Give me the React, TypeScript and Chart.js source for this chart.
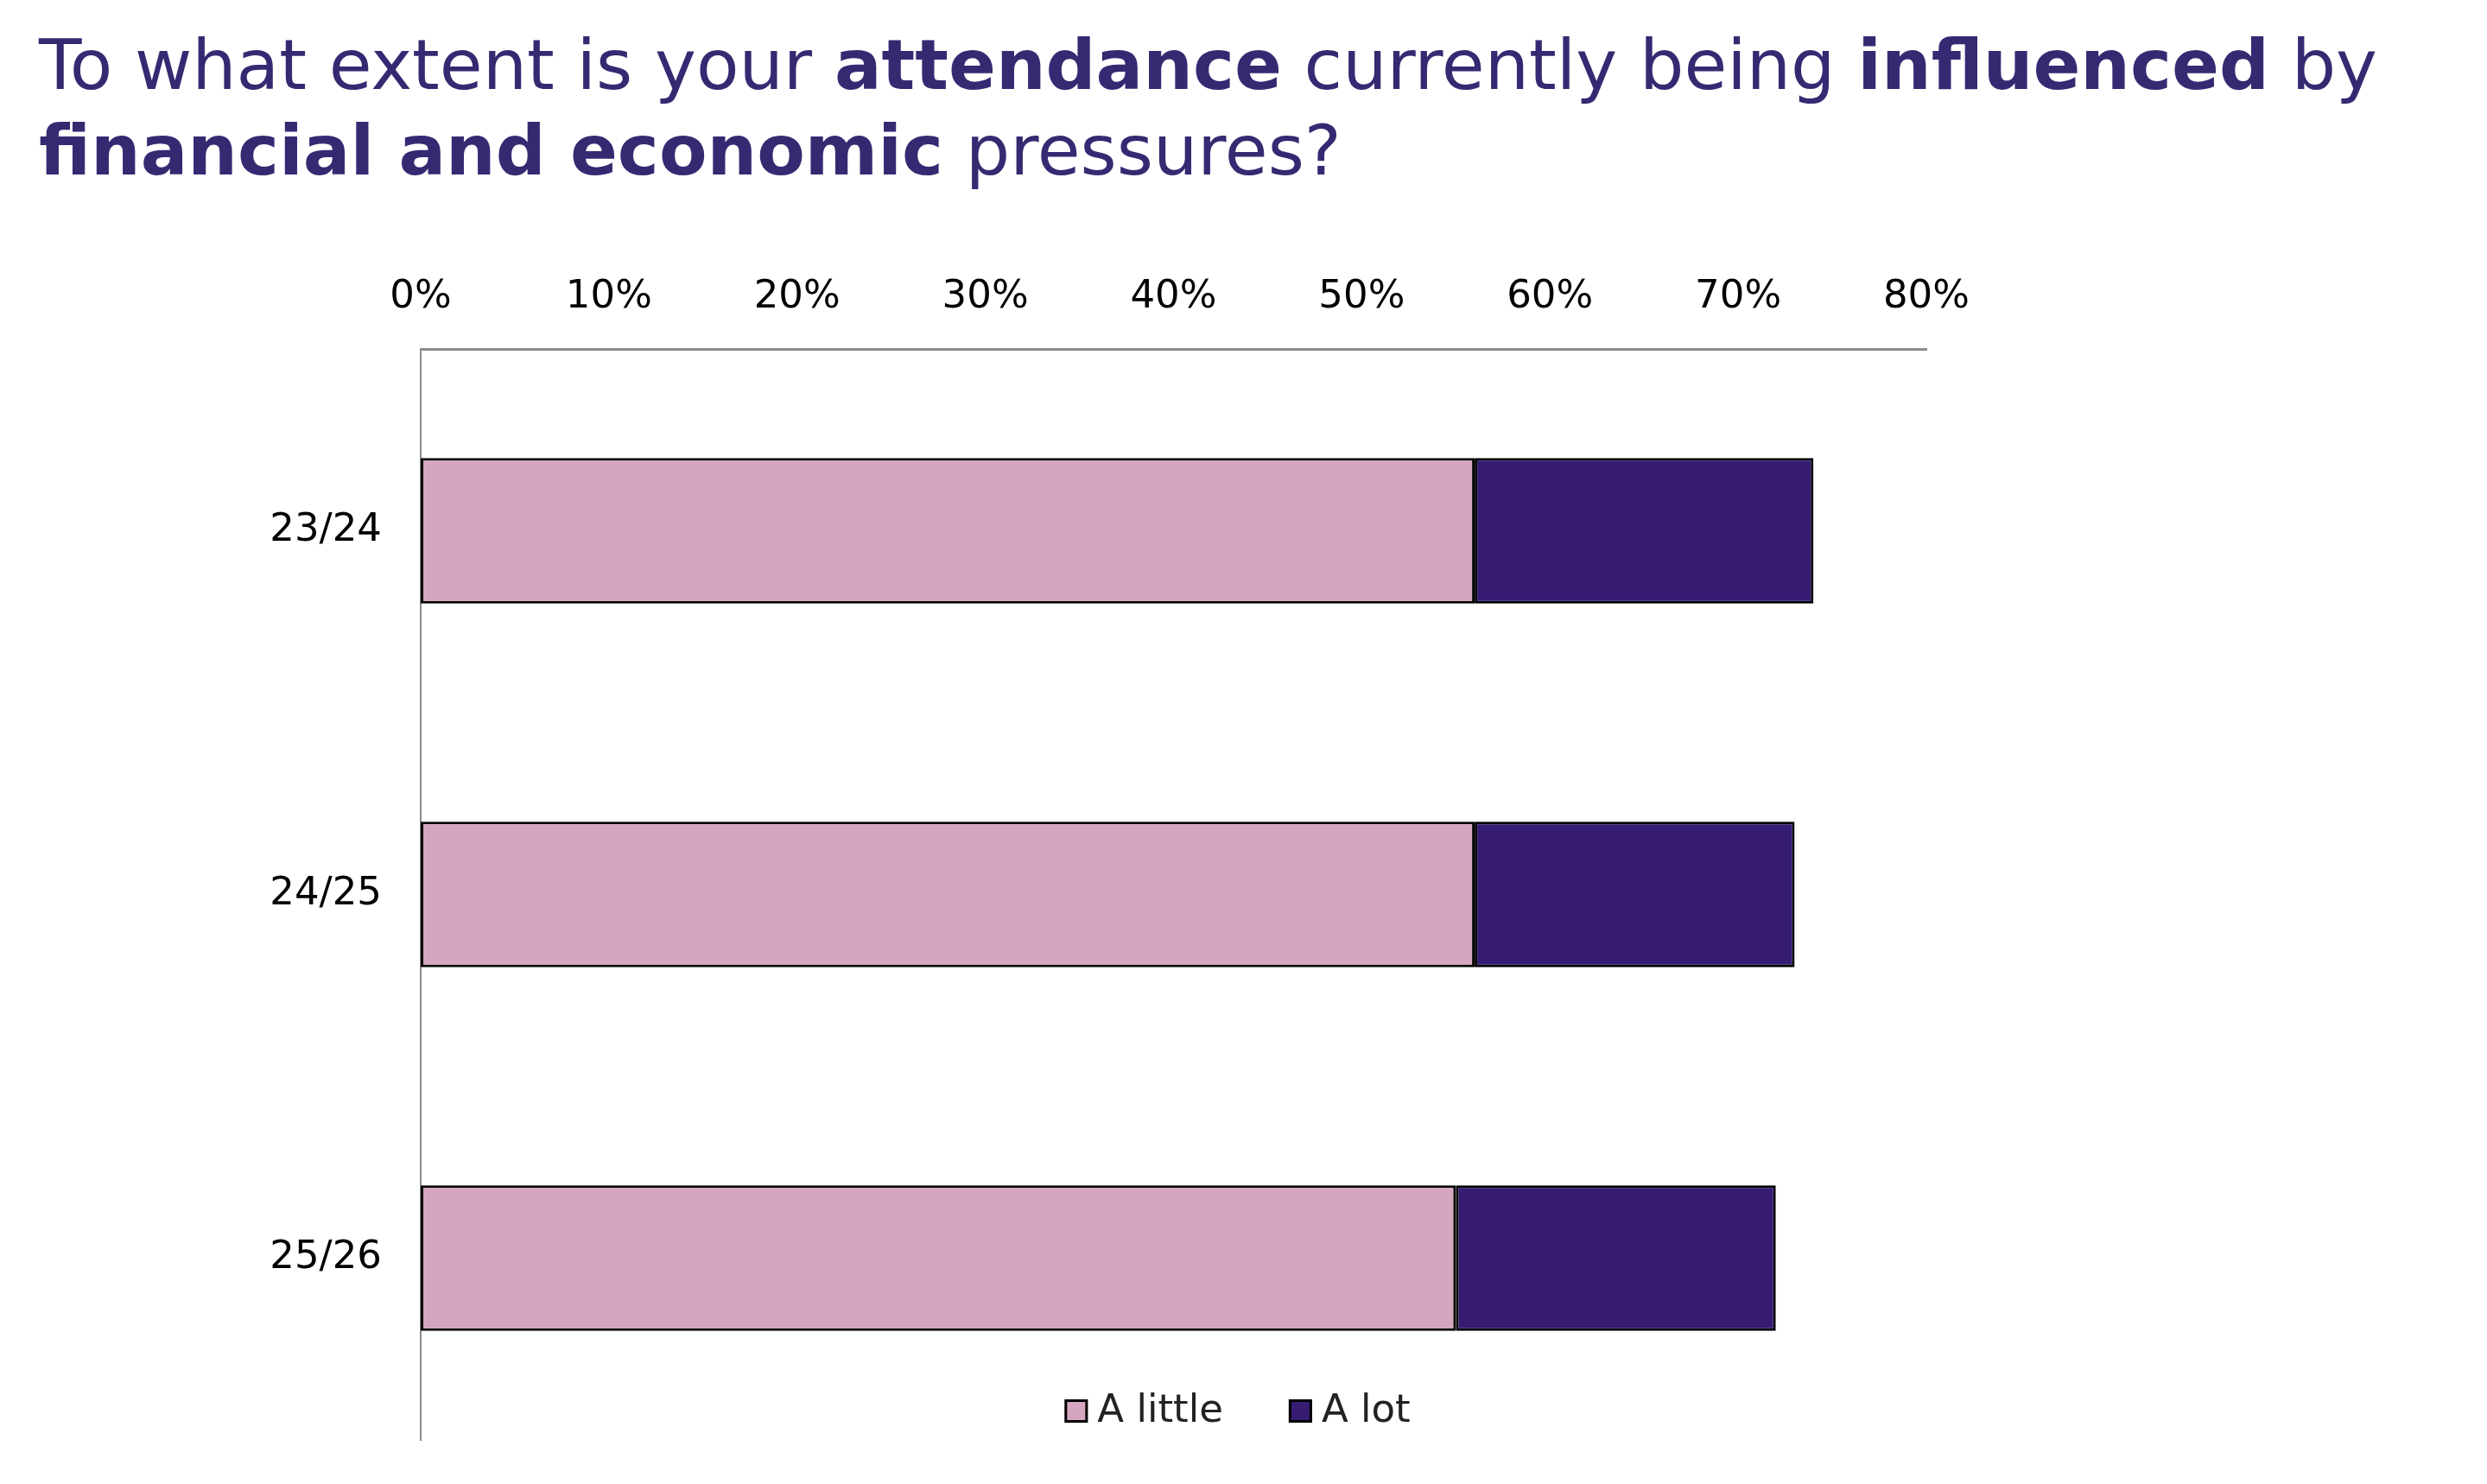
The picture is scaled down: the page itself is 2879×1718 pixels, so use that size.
import React, { useEffect, useRef } from "react";
import { Chart, registerables } from "chart.js";

Chart.register(...registerables);

const FONT = "'DejaVu Sans', sans-serif";

const categories = ["23/24", "24/25", "25/26"];
const seriesNames = ["A little", "A lot"];
const aLittle = [56, 56, 55];
const aLot = [18, 17, 17];
const xMin = 0;
const xMax = 80;
const xStep = 10;

const PINK = "#D6A5BF";
const PURPLE = "#361C73";
const TITLE_COLOR = "#352A72";

const legendPlugin = {
  id: "insideLegend",
  afterDraw(chart: any) {
    const ctx = chart.ctx;
    ctx.save();
    ctx.font = `45px ${FONT}`;
    ctx.textBaseline = "alphabetic";
    const box = 27;
    const gapText = 11;
    const gapItem = 76;
    const items = chart.data.datasets.map((d: any) => ({
      label: d.label,
      color: d.backgroundColor,
      w: ctx.measureText(d.label).width,
    }));
    let total = 0;
    items.forEach((it: any, i: number) => {
      total += box + gapText + it.w + (i > 0 ? gapItem : 0);
    });
    let x = chart.width / 2 - 7 - total / 2;
    const baseline = chart.chartArea.bottom - 21;
    items.forEach((it: any) => {
      ctx.fillStyle = it.color;
      ctx.fillRect(x, baseline - 26, box, box);
      ctx.lineWidth = 3;
      ctx.strokeStyle = "#000";
      ctx.strokeRect(x + 1.5, baseline - 26 + 1.5, box - 3, box - 3);
      ctx.fillStyle = "#222";
      ctx.fillText(it.label, x + box + gapText, baseline);
      x += box + gapText + it.w + gapItem;
    });
    ctx.restore();
  },
};

function ChartCanvas() {
  const ref = useRef<HTMLCanvasElement | null>(null);
  useEffect(() => {
    if (!ref.current) return;
    const chart = new Chart(ref.current, {
      type: "bar",
      data: {
        labels: categories,
        datasets: [
          {
            label: seriesNames[0],
            data: aLittle,
            backgroundColor: PINK,
            borderColor: "#000",
            borderWidth: 3,
            borderSkipped: false,
            barPercentage: 0.4,
            categoryPercentage: 1,
          },
          {
            label: seriesNames[1],
            data: aLot,
            backgroundColor: PURPLE,
            borderColor: "#000",
            borderWidth: 3,
            borderSkipped: false,
            barPercentage: 0.4,
            categoryPercentage: 1,
          },
        ],
      },
      options: {
        indexAxis: "y",
        animation: false,
        responsive: false,
        devicePixelRatio: 1,
        layout: { padding: { left: 0, right: 649, top: 0, bottom: 51 } },
        plugins: {
          legend: { display: false },
          tooltip: { enabled: false },
          title: { display: false },
        },
        scales: {
          x: {
            position: "top",
            stacked: true,
            min: xMin,
            max: xMax,
            grid: { display: false, drawTicks: false },
            border: { display: true, color: "#8C8C8C", width: 3 },
            ticks: {
              stepSize: xStep,
              color: "#000",
              padding: 33,
              font: { family: FONT, size: 45 },
              callback: (v: any) => `${v}%`,
            },
            afterFit: (s: any) => {
              s.height = 404;
            },
          },
          y: {
            stacked: true,
            grid: { display: false, drawTicks: false },
            border: { display: true, color: "#8C8C8C", width: 2 },
            ticks: {
              color: "#000",
              padding: 45,
              font: { family: FONT, size: 45 },
            },
            afterFit: (s: any) => {
              s.width = 487;
              s.paddingTop = 0;
              s.paddingBottom = 0;
            },
          },
        },
      },
      plugins: [legendPlugin],
    });
    return () => chart.destroy();
  }, []);
  return (
    <canvas
      ref={ref}
      width={2879}
      height={1718}
      style={{ position: "absolute", left: 0, top: 0, width: 2879, height: 1718 }}
    />
  );
}

export default function App() {
  return (
    <div
      style={{
        position: "absolute",
        left: 0,
        top: 0,
        width: 2879,
        height: 1718,
        background: "#fff",
        overflow: "hidden",
      }}
    >
      <ChartCanvas />
      <div
        style={{
          position: "absolute",
          left: 45,
          top: 26,
          fontFamily: FONT,
          fontSize: 81,
          lineHeight: "99px",
          color: TITLE_COLOR,
          whiteSpace: "nowrap",
        }}
      >
        <div>
          To what extent is your <b>attendance</b> currently being <b>influenced</b> by
        </div>
        <div>
          <b>financial and economic</b> pressures?
        </div>
      </div>
    </div>
  );
}
